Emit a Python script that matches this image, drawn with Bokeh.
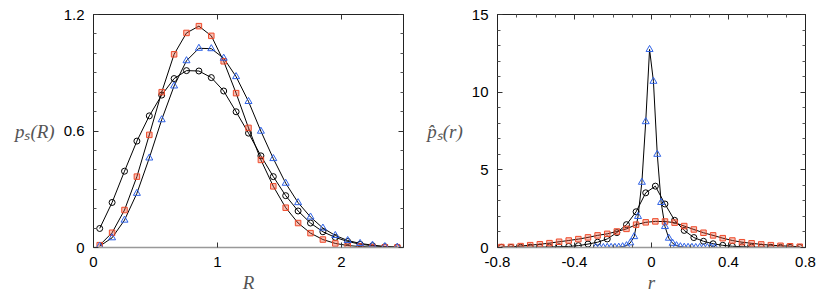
from bokeh.plotting import figure
from bokeh.layouts import row
from bokeh.models import FixedTicker, LinearAxis, Range1d
from bokeh.embed import file_html
from bokeh.resources import INLINE

# ---------------- left panel data ----------------
R = [0.05, 0.15, 0.25, 0.35, 0.45, 0.55, 0.65, 0.75, 0.85, 0.95, 1.05, 1.15, 1.25,
     1.35, 1.45, 1.55, 1.65, 1.75, 1.85, 1.95, 2.05, 2.15, 2.25, 2.35, 2.45]
ps_circle = [0.098, 0.232, 0.393, 0.548, 0.678, 0.785, 0.870, 0.911, 0.909, 0.875, 0.806,
             0.699, 0.589, 0.472, 0.365, 0.267, 0.188, 0.126, 0.081, 0.052, 0.031, 0.017,
             0.009, 0.004, 0.002]
ps_square = [0.012, 0.076, 0.193, 0.365, 0.580, 0.800, 0.995, 1.105, 1.140, 1.090, 0.959,
             0.795, 0.616, 0.451, 0.315, 0.205, 0.126, 0.074, 0.041, 0.021, 0.010, 0.005,
             0.002, 0.001, 0.000]
ps_triangle = [0.007, 0.050, 0.141, 0.279, 0.461, 0.658, 0.832, 0.962, 1.026, 1.024, 0.975,
               0.880, 0.752, 0.599, 0.458, 0.331, 0.231, 0.157, 0.100, 0.062, 0.036, 0.021,
               0.012, 0.005, 0.002]

# ---------------- right panel data ----------------
r = [-0.78, -0.73, -0.68, -0.63, -0.58, -0.53, -0.48, -0.43, -0.38, -0.33, -0.28, -0.23,
     -0.18, -0.13, -0.08, -0.03, 0.02, 0.07, 0.12, 0.17, 0.22, 0.27, 0.32, 0.37, 0.42,
     0.47, 0.52, 0.57, 0.62, 0.67, 0.72, 0.77]
pr_circle = [0.01, 0.01, 0.015, 0.02, 0.025, 0.035, 0.05, 0.07, 0.12, 0.22, 0.34, 0.55,
             0.96, 1.47, 2.30, 3.52, 3.95, 2.80, 1.75, 1.10, 0.64, 0.40, 0.24, 0.14, 0.08,
             0.05, 0.03, 0.02, 0.015, 0.01, 0.01, 0.005]
pr_square = [0.03, 0.04, 0.09, 0.15, 0.21, 0.28, 0.37, 0.45, 0.54, 0.65, 0.78, 0.88,
             1.03, 1.20, 1.47, 1.62, 1.68, 1.67, 1.60, 1.38, 1.16, 0.95, 0.78, 0.60, 0.45,
             0.34, 0.27, 0.20, 0.15, 0.11, 0.08, 0.05]
r_fine = [-0.29, -0.27, -0.25, -0.23, -0.21, -0.19, -0.17, -0.15, -0.13, -0.11, -0.09,
          -0.07, -0.05, -0.03, -0.01, 0.01, 0.03, 0.05, 0.07, 0.09, 0.11, 0.13, 0.15,
          0.17, 0.19, 0.21, 0.23, 0.25, 0.27, 0.29, 0.31, 0.33]
pr_triangle = [0.0, 0.0, 0.0, 0.01, 0.01, 0.01, 0.02, 0.05, 0.12, 0.30, 0.70, 2.0, 4.2,
               8.1, 12.75, 10.7, 6.0, 2.9, 1.35, 0.6, 0.27, 0.12, 0.05, 0.02, 0.01, 0.01,
               0.0, 0.0, 0.0, 0.0, 0.0, 0.0]

left_xticks = [0, 1, 2]
left_yticks = [0, 0.6, 1.2]
left_yminor = [0.1, 0.2, 0.3, 0.4, 0.5, 0.7, 0.8, 0.9, 1.0, 1.1]
right_xticks = [-0.8, -0.4, 0, 0.4, 0.8]
right_xminor = [-0.7, -0.6, -0.5, -0.3, -0.2, -0.1, 0.1, 0.2, 0.3, 0.5, 0.6, 0.7]
right_yticks = [0, 5, 10, 15]
right_yminor = [1, 2, 3, 4, 6, 7, 8, 9, 11, 12, 13, 14]

RED = "#ee4b2b"
BLUE = "#2f62e6"
TICK_FONT = "Liberation Sans"
LABEL_FONT = "Liberation Serif"
FIG_H = 295


def style_axis(ax, ticks, minor, overrides, show_labels=True):
    ax.ticker = FixedTicker(ticks=ticks, minor_ticks=minor)
    ax.major_tick_in = 5
    ax.major_tick_out = 0
    ax.minor_tick_in = 3
    ax.minor_tick_out = 0
    ax.axis_line_color = "#222222"
    ax.major_tick_line_color = "#333333"
    ax.minor_tick_line_color = "#555555"
    ax.major_label_text_font = TICK_FONT
    ax.major_label_text_font_size = "15px"
    ax.major_label_text_color = "#000000"
    ax.major_label_overrides = overrides
    ax.major_label_standoff = 9
    if not show_labels:
        ax.major_label_text_font_size = "0px"
        ax.major_label_text_alpha = 0
        ax.major_label_standoff = 0


def make_fig(width, xr, yr, bl, br, xt, xm, xo, yt, ym, yo, xlabel, ylabel):
    p = figure(width=width, height=FIG_H, x_range=Range1d(*xr), y_range=Range1d(*yr),
               output_backend="svg", toolbar_location=None,
               min_border_left=bl, min_border_right=br, min_border_top=14,
               min_border_bottom=48)
    p.grid.visible = False
    p.outline_line_color = "#222222"
    p.background_fill_color = "white"
    style_axis(p.xaxis[0], xt, xm, xo)
    style_axis(p.yaxis[0], yt, ym, yo)
    p.xaxis[0].axis_line_color = "#999999"
    p.xaxis[0].axis_line_width = 1.5
    p.xaxis.axis_label = xlabel
    p.yaxis.axis_label = ylabel
    for ax in (p.xaxis[0], p.yaxis[0]):
        ax.axis_label_text_font = LABEL_FONT
        ax.axis_label_text_font_style = "italic"
        ax.axis_label_text_font_size = "19px"
        ax.axis_label_text_color = "#555555"
    p.xaxis[0].axis_label_standoff = 2
    p.yaxis[0].axis_label_orientation = "horizontal"
    p.yaxis[0].axis_label_standoff = 6
    top = LinearAxis()
    style_axis(top, xt, xm, {}, show_labels=False)
    right = LinearAxis()
    style_axis(right, yt, ym, {}, show_labels=False)
    p.add_layout(top, "above")
    p.add_layout(right, "right")
    return p


p1 = make_fig(418, (0, 2.5), (0, 1.2), 93, 15, left_xticks, [], {0: "0", 1: "1", 2: "2"},
              left_yticks, left_yminor, {0: "0", 0.6: "0.6", 1.2: "1.2"},
              "R", "p\u209b(R)")

for y in (ps_circle, ps_square, ps_triangle):
    p1.line(R, y, line_color="black", line_width=1)
p1.scatter(R, ps_circle, marker="circle", size=6, line_color="black", line_width=1,
           fill_color=None)
p1.scatter(R, ps_square, marker="square", size=5.5, line_color=RED, line_width=1,
           fill_color=RED, fill_alpha=0.35)
p1.scatter(R, ps_triangle, marker="triangle", size=7, line_color=BLUE, line_width=1,
           fill_color=None)

p2 = make_fig(412, (-0.8, 0.8), (0, 15), 79, 25, right_xticks, right_xminor,
              {-0.8: "-0.8", -0.4: "-0.4", 0: "0", 0.4: "0.4", 0.8: "0.8"},
              right_yticks, right_yminor, {0: "0", 5: "5", 10: "10", 15: "15"},
              "r", "p\u0302\u209b(r)")

p2.line(r, pr_square, line_color="black", line_width=1)
p2.line(r, pr_circle, line_color="black", line_width=1)
p2.line(r_fine, pr_triangle, line_color="black", line_width=1)
p2.scatter(r, pr_circle, marker="circle", size=6, line_color="black", line_width=1,
           fill_color=None)
p2.scatter(r, pr_square, marker="square", size=5.5, line_color=RED, line_width=1,
           fill_color=RED, fill_alpha=0.35)
p2.scatter(r_fine, pr_triangle, marker="triangle", size=7, line_color=BLUE, line_width=1,
           fill_color=None)

layout = row(p1, p2)
open("out.html", "w").write(file_html(layout, INLINE))
